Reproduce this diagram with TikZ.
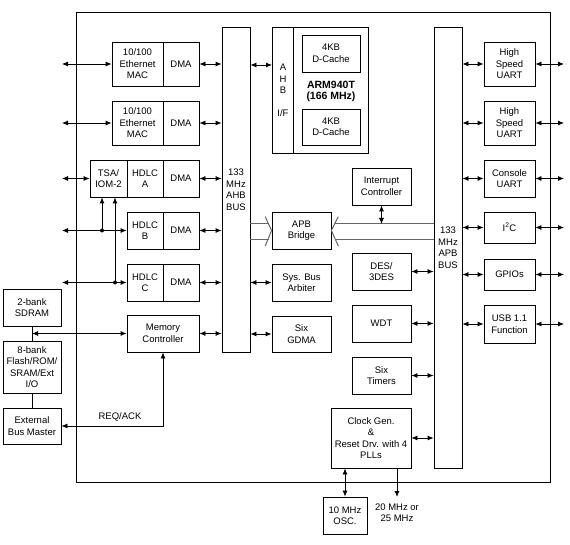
\documentclass[tikz,border=0pt]{standalone}
\usepackage{fontspec}
\setmainfont{Liberation Sans}
\usetikzlibrary{arrows.meta}
\newcommand\drawbox[6]{\node[blk, minimum width={(#4-#2)*1pt}, minimum height={(#5-#3)*1pt}] (#1) at ({(#2+#4)/2},{(#3+#5)/2}) {#6};}
\begin{document}
\begin{tikzpicture}[x=1pt,y=-1pt,
  txt/.style={font=\fontsize{9.5}{11.5}\selectfont, align=center, inner sep=0pt},
  blk/.style={txt, draw, line width=0.8pt},
  conn/.style={line width=0.8pt, {Latex[length=6pt,width=5pt]}-{Latex[length=6pt,width=5pt]}},
  oneway/.style={line width=0.8pt, -{Latex[length=6pt,width=5pt]}},
  plain/.style={line width=0.8pt},
  hollow/.style={draw=black!60, line width=1pt},
  dotm/.style={circle, fill=black, inner sep=0pt, minimum size=4pt}]
\useasboundingbox (0,0) rectangle (570,545);

% outer chip
\drawbox{chip}{76}{12}{550}{482}{}

% buses
\drawbox{ahb}{222}{27}{250}{352}{133\\MHz\\AHB\\BUS}
\drawbox{apb}{434}{27}{462}{468}{133\\MHz\\APB\\BUS}

% ARM core
\drawbox{arm}{272}{27}{368}{153}{}
\draw[plain] (arm.north west) ++(22,0) -- ++(0,126);
\node[txt] (ahbif) at (283,90.5) {A\\H\\B\\[11.5pt]I/F};
\drawbox{cache1}{302}{35}{360}{72}{4KB\\D-Cache}
\drawbox{cache2}{302}{109}{360}{145}{4KB\\D-Cache}
\node[txt, font=\fontsize{10.5}{11}\selectfont\bfseries] (armtxt) at (331,91) {ARM940T\\(166 MHz)};

% left blocks
\drawbox{mac1}{112}{42}{163}{86}{10/100\\Ethernet\\MAC}
\drawbox{dma1}{163}{42}{199}{86}{DMA}
\drawbox{mac2}{112}{101}{163}{145}{10/100\\Ethernet\\MAC}
\drawbox{dma2}{163}{101}{199}{145}{DMA}
\drawbox{tsa}{90}{160}{127}{197}{TSA/\\IOM-2}
\drawbox{hdlcA}{127}{160}{163}{197}{HDLC\\A}
\drawbox{dmaA}{163}{160}{199}{197}{DMA}
\drawbox{hdlcB}{127}{212}{163}{249}{HDLC\\B}
\drawbox{dmaB}{163}{212}{199}{249}{DMA}
\drawbox{hdlcC}{127}{264}{163}{301}{HDLC\\C}
\drawbox{dmaC}{163}{264}{199}{301}{DMA}
\drawbox{memc}{127}{315}{199}{352}{Memory\\Controller}

% middle blocks
\drawbox{bridge}{272}{212}{331}{249}{APB\\Bridge}
\drawbox{arb}{272}{264}{331}{301}{Sys. Bus\\Arbiter}
\drawbox{gdma}{272}{316}{331}{352}{Six\\GDMA}
\drawbox{intc}{352}{168}{411}{205}{Interrupt\\Controller}
\drawbox{des}{352}{253}{411}{290}{DES/\\3DES}
\drawbox{wdt}{352}{305}{411}{342}{WDT}
\drawbox{tmr}{352}{357}{411}{394}{Six\\Timers}
\drawbox{clk}{331}{408}{411}{468}{Clock Gen.\\\&\\Reset Drv. with 4\\PLLs}

% right blocks
\drawbox{u1}{484}{42}{535}{86}{High\\Speed\\UART}
\drawbox{u2}{484}{101}{535}{145}{High\\Speed\\UART}
\drawbox{cu}{484}{160}{535}{197}{Console\\UART}
\drawbox{i2c}{484}{212}{535}{243}{I\textsuperscript{2}C}
\drawbox{gpio}{484}{259}{535}{290}{GPIOs}
\drawbox{usb}{484}{305}{535}{343}{USB 1.1\\Function}

% external
\drawbox{sdram}{3}{289}{61}{326}{2-bank\\SDRAM}
\drawbox{flash}{3}{341}{61}{393}{8-bank\\Flash/ROM/\\SRAM/Ext\\I/O}
\drawbox{ebm}{3}{408}{61}{444}{External\\Bus Master}
\drawbox{osc}{323}{497}{367}{534}{10 MHz\\OSC.}
\node[txt] (freq) at (397,512.5) {20 MHz or\\25 MHz};

% left external arrows
\coordinate (l1) at (62,64);
\coordinate (l2) at (62,123);
\coordinate (lA) at (62,178.5);
\coordinate (lB) at (62,230.5);
\coordinate (lC) at (62,282.5);
\draw[conn] (l1) -- (mac1.west);
\draw[conn] (l2) -- (mac2.west);
\draw[conn] (lA) -- (tsa.west);
\draw[conn] (lB) -- (hdlcB.west);
\draw[conn] (lC) -- (hdlcC.west);
\node[dotm] (dB) at (102,230.5) {};
\node[dotm] (dC) at (115,282.5) {};
\draw[oneway] (dB.center) -- (dB |- tsa.south);
\draw[oneway] (dC.center) -- (dC |- tsa.south);

% DMA to AHB
\foreach \n in {dma1,dma2,dmaA,dmaB,dmaC,memc}
  \draw[conn] (\n.east) -- (\n.east -| ahb.west);
\coordinate (armin) at (272,65);
\draw[conn] (armin -| ahb.east) -- (armin);
\draw[conn] (arb.west -| ahb.east) -- (arb.west);
\draw[conn] (gdma.west -| ahb.east) -- (gdma.west);

% APB peripherals
\foreach \n in {u1,u2,cu,i2c,gpio,usb}{
  \draw[conn] (\n.west -| apb.east) -- (\n.west);
  \coordinate (\n-out) at (564,0 |- \n.east);
  \draw[conn] (\n.east) -- (\n-out);
}
\foreach \n in {des,wdt,tmr,clk}
  \draw[conn] (\n.east) -- (\n.east -| apb.west);

% hollow bus arrows
\coordinate (shtop) at (0,224);
\draw[hollow] (ahb.east |- shtop) -- (268.6,224);
\draw[hollow] (ahb.east |- 0,239.3) -- (268.6,239.3);
\draw[hollow] (265.2,216.7) -- (bridge.west) -- (265.2,246);
\draw[hollow] (apb.west |- shtop) -- (334.5,224);
\draw[hollow] (apb.west |- 0,239.3) -- (334.5,239.3);
\draw[hollow] (338.3,216.7) -- (bridge.east) -- (338.3,246);
\draw[conn] (intc.south) -- (intc.south |- shtop);

% memory side
\draw[plain] (sdram.south) -- (flash.north);
\draw[plain] (flash.south) -- (ebm.north);
\coordinate (mj) at (32,0 |- memc.west);
\draw[conn] (mj) -- (memc.west);
\draw[conn] (ebm.east) -| (memc.south);
\node[txt] (req) at (120,416.5) {REQ/ACK};

% clock
\draw[conn] (osc.north |- clk.south) -- (osc.north);
\coordinate (fq) at (397,497);
\draw[oneway] (fq |- clk.south) -- (fq);
\end{tikzpicture}
\end{document}
